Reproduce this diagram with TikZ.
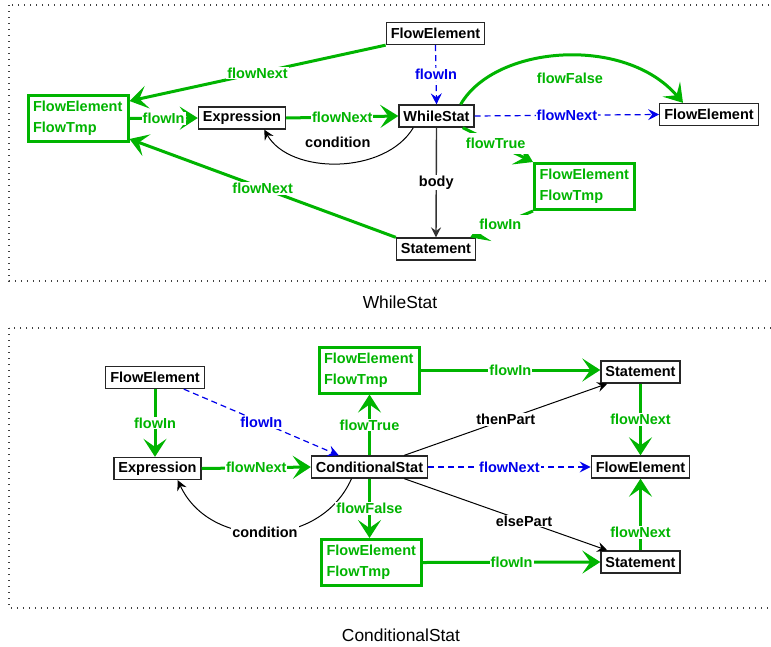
\documentclass[tikz,border=0pt]{standalone}
\usepackage{fontspec}
\setmainfont{Liberation Sans}
\usetikzlibrary{arrows.meta}
\definecolor{flowgreen}{RGB}{0,180,0}
\definecolor{flowblue}{RGB}{0,0,235}

\begin{document}
\begin{tikzpicture}[x=1pt,y=-1pt,
  boldtext/.style={font=\fontsize{14.5}{17}\selectfont\bfseries},
  box/.style={boldtext, draw=black!85, line width=1.3pt, fill=white,
    inner xsep=4.5pt, inner ysep=0pt, minimum height=22pt},
  tmpbox/.style={draw=flowgreen, line width=3pt, fill=white, text=flowgreen,
    font=\fontsize{14.5}{21}\selectfont\bfseries, align=left,
    text width=90pt, inner xsep=5pt, minimum height=46pt},
  glbl/.style={boldtext, text=flowgreen, fill=white, inner sep=1pt},
  blbl/.style={boldtext, text=flowblue, fill=white, inner sep=1pt},
  klbl/.style={boldtext, text=black, fill=white, inner sep=1pt},
  gedge/.style={draw=flowgreen, line width=3pt,
    -{Stealth[length=18pt,width=23pt,inset=8pt]}},
  bedge/.style={draw=flowblue, line width=1.2pt, dash pattern=on 6pt off 4pt,
    -{Stealth[length=11pt,width=11pt,inset=4pt]}},
  kedge/.style={draw=black, line width=1pt,
    -{Stealth[length=10pt,width=10pt,inset=3.5pt]}},
  frame/.style={draw=black!75, line width=1.2pt, dash pattern=on 1.2pt off 4.8pt},
  caption/.style={font=\fontsize{17.4}{20}\selectfont}
]
\useasboundingbox (0,0) rectangle (771,646);

% ---------- WhileStat ----------
\draw[frame] (9,5) rectangle (800,281);
\node[caption] (capW) at (400,302) {WhileStat};

\node[tmpbox] (tA) at (78,118.5) {FlowElement\\FlowTmp};
\node[box] (tExp) at (242,118) {Expression};
\node[box] (tWS) at (436.5,116) {WhileStat};
\node[box] (tFE1) at (435.5,33.5) {FlowElement};
\node[box] (tFE2) at (709,114.5) {FlowElement};
\node[tmpbox] (tB) at (584.5,186.5) {FlowElement\\FlowTmp};
\node[box] (tSt) at (436,249) {Statement};

\draw[gedge] (tFE1.south west) -- ([yshift=-7pt]tA.north east)
  node[glbl, pos=0.5] {flowNext};
\draw[gedge] (tSt.north west) -- ([yshift=4pt]tA.south east)
  node[glbl, pos=0.5] {flowNext};
\draw[gedge] (tA.east) -- (tExp.west) node[glbl, midway] {flowIn};
\draw[gedge] (tExp.east) -- (tWS.west) node[glbl, midway] {flowNext};
\draw[kedge] ([xshift=15pt]tWS.south west) .. controls (385,175) and (290,175) ..
  ([xshift=-22pt]tExp.south east)
  node[boldtext, pos=0.5, yshift=21pt] {condition};
\draw[bedge] (tFE1.south) -- (tWS.north) node[blbl, midway] {flowIn};
\draw[bedge] (tWS.east) -- (tFE2.west) node[blbl, midway] {flowNext};
\draw[gedge] ([xshift=-14pt]tWS.north east) .. controls (495,45) and (625,35) ..
  ([xshift=-26pt]tFE2.north)
  node[boldtext, text=flowgreen, pos=0.5, yshift=-22pt, xshift=7pt] {flowFalse};
\draw[gedge] ([xshift=-12pt]tWS.south east) -- (tB.north west)
  node[glbl, pos=0.47, inner xsep=6pt, inner ysep=5pt] {flowTrue};
\draw[gedge] (tB.south west) -- ([xshift=-6pt]tSt.north east)
  node[glbl, pos=0.52, inner xsep=7pt, inner ysep=4pt] {flowIn};
\draw[kedge, draw=black!80, line width=1.4pt] (tWS.south) -- (tSt.north)
  node[klbl, midway] {body};

% ---------- ConditionalStat ----------
\draw[frame] (9,328) rectangle (800,608);
\node[caption] (capC) at (401,635) {ConditionalStat};

\node[box] (cFE) at (155,377.5) {FlowElement};
\node[box] (cExp) at (157.5,468.5) {Expression};
\node[box] (cCS) at (369.5,467) {ConditionalStat};
\node[tmpbox] (cT) at (369,370) {FlowElement\\FlowTmp};
\node[tmpbox] (cF) at (371.5,562.5) {FlowElement\\FlowTmp};
\node[box] (cS1) at (640.5,372) {Statement};
\node[box] (cFE2) at (640.5,467) {FlowElement};
\node[box] (cS2) at (640.5,562) {Statement};

\draw[gedge] (cFE.south) -- (cFE.south |- cExp.north) node[glbl, midway] {flowIn};
\draw[bedge] ([xshift=-21pt]cFE.south east) -- ([xshift=28pt]cCS.north west)
  node[blbl, midway] {flowIn};
\draw[gedge] (cExp.east) -- (cCS.west) node[glbl, midway] {flowNext};
\draw[kedge] ([xshift=-18pt]cCS.south) .. controls (320,550) and (210,550) ..
  ([xshift=-24pt]cExp.south east) node[klbl, pos=0.5] {condition};
\draw[gedge] (cCS.north) -- (cCS.north |- cT.south) node[glbl, midway] {flowTrue};
\draw[gedge] (cCS.south) -- (cCS.south |- cF.north) node[glbl, midway] {flowFalse};
\draw[gedge] (cT.east) -- (cT.east -| cS1.west) node[glbl, midway] {flowIn};
\draw[gedge] (cF.east) -- (cS2.west) node[glbl, midway] {flowIn};
\draw[kedge] ([xshift=-24pt]cCS.north east) -- ([xshift=7pt]cS1.south west)
  node[klbl, pos=0.5] {thenPart};
\draw[kedge] ([xshift=-24pt]cCS.south east) -- ([xshift=7pt]cS2.north west)
  node[klbl, pos=0.59] {elsePart};
\draw[bedge] (cCS.east) -- (cFE2.west) node[blbl, midway] {flowNext};
\draw[gedge] (cS1.south) -- (cFE2.north) node[glbl, midway] {flowNext};
\draw[gedge] (cS2.north) -- (cFE2.south) node[glbl, pos=0.25] {flowNext};
\end{tikzpicture}
\end{document}
